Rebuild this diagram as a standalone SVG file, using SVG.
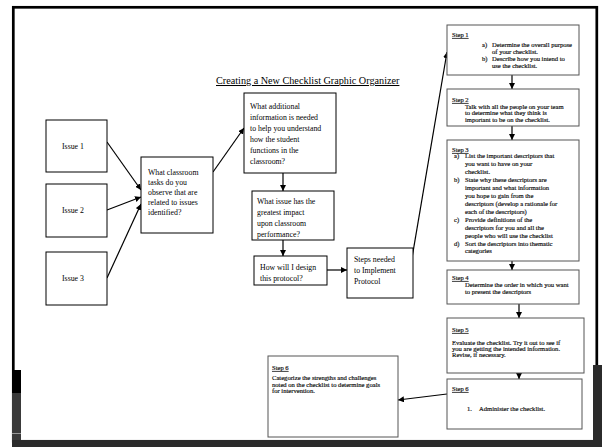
<svg xmlns="http://www.w3.org/2000/svg" width="602" height="447" viewBox="0 0 602 447">
  <defs>
    <marker id="arrow" markerUnits="userSpaceOnUse" markerWidth="6" markerHeight="6" refX="6" refY="3" orient="auto">
      <path d="M0,0 L6,3 L0,6 z" fill="#000"/>
    </marker>
  </defs>
  <style>
    .box { fill: #fff; stroke: #000; stroke-width: 1; }
    .step { fill: #fff; stroke: #555; stroke-width: 1; }
    .t { font-family: "Liberation Serif", "Times New Roman", serif; font-size: 7.8px; fill: #000; }
    .s { font-family: "Liberation Serif", "Times New Roman", serif; font-size: 6.6px; fill: #111; stroke: #111; stroke-width: 0.18; }
    .u { text-decoration: underline; }
    .title { font-family: "Liberation Serif", "Times New Roman", serif; font-size: 10.2px; fill: #000; text-decoration: underline; }
    .link { fill: none; stroke: #000; stroke-width: 1.2; marker-end: url(#arrow); }
  </style>

  <!-- page background and slide frame -->
  <rect x="0" y="0" width="602" height="447" fill="#fff"/>
  <rect x="13.3" y="7.3" width="583.5" height="434" fill="none" stroke="#000" stroke-width="2.7"/>
  <rect x="593" y="365" width="9" height="82" fill="#2b2b2b"/>
  <rect x="12" y="440" width="590" height="7" fill="#2b2b2b"/>
  <rect x="12" y="370" width="9" height="23" fill="#000"/>
  <rect x="12" y="393" width="9" height="47" fill="#3a3a3a"/>
  <line x1="12" y1="433.5" x2="21" y2="433.5" stroke="#999" stroke-width="1"/>

  <text class="title" x="216" y="84">Creating a New Checklist Graphic Organizer</text>

  <!-- connectors -->
  <g id="connectors">
    <line class="link" x1="107" y1="142" x2="141" y2="190"/>
    <line class="link" x1="107" y1="210" x2="141" y2="197"/>
    <line class="link" x1="107" y1="278" x2="141" y2="204"/>
    <line class="link" x1="213" y1="172" x2="244" y2="128"/>
    <line class="link" x1="283" y1="173" x2="283" y2="191"/>
    <line class="link" x1="283" y1="240" x2="283" y2="256"/>
    <line class="link" x1="327" y1="270" x2="347" y2="270"/>
    <line class="link" x1="412" y1="258" x2="447" y2="52"/>
    <line class="link" x1="512" y1="75" x2="512" y2="89"/>
    <line class="link" x1="512" y1="126" x2="512" y2="140"/>
    <line class="link" x1="512" y1="261" x2="512" y2="270"/>
    <line class="link" x1="519" y1="304" x2="519" y2="318"/>
    <line class="link" x1="519" y1="373" x2="519" y2="379"/>
    <line class="link" x1="447" y1="394" x2="398" y2="400"/>
  </g>

  <g id="issue1">
    <rect class="box" x="46" y="120" width="61" height="52"/>
    <text class="t" x="62" y="149">Issue 1</text>
  </g>
  <g id="issue2">
    <rect class="box" x="46" y="184" width="61" height="53"/>
    <text class="t" x="62" y="213">Issue 2</text>
  </g>
  <g id="issue3">
    <rect class="box" x="46" y="252" width="61" height="53"/>
    <text class="t" x="62" y="281">Issue 3</text>
  </g>

  <g id="classroom-tasks">
    <rect class="box" x="141" y="157" width="72" height="76"/>
    <text class="t" x="148" y="175">What classroom</text>
    <text class="t" x="148" y="185">tasks do you</text>
    <text class="t" x="148" y="195">observe that are</text>
    <text class="t" x="148" y="205">related to issues</text>
    <text class="t" x="148" y="215">identified?</text>
  </g>

  <g id="additional-info">
    <rect class="box" x="244" y="93" width="92" height="80"/>
    <text class="t" x="250" y="109">What additional</text>
    <text class="t" x="250" y="120">information is needed</text>
    <text class="t" x="250" y="131">to help you understand</text>
    <text class="t" x="250" y="142">how the student</text>
    <text class="t" x="250" y="153">functions in the</text>
    <text class="t" x="250" y="164">classroom?</text>
  </g>

  <g id="greatest-impact">
    <rect class="box" x="252" y="191" width="82" height="49"/>
    <text class="t" x="257" y="204">What issue has the</text>
    <text class="t" x="257" y="215">greatest impact</text>
    <text class="t" x="257" y="226">upon classroom</text>
    <text class="t" x="257" y="237">performance?</text>
  </g>

  <g id="design-protocol">
    <rect class="box" x="254" y="256" width="73" height="29"/>
    <text class="t" x="260" y="270">How will I design</text>
    <text class="t" x="260" y="281">this protocol?</text>
  </g>

  <g id="steps-needed">
    <rect class="box" x="347" y="248" width="66" height="50"/>
    <text class="t" x="354" y="262">Steps needed</text>
    <text class="t" x="354" y="273">to Implement</text>
    <text class="t" x="354" y="284">Protocol</text>
  </g>

  <g id="step1">
    <rect class="step" x="447" y="25" width="132" height="50"/>
    <text class="s u" x="452" y="37">Step 1</text>
    <text class="s" x="482" y="47">a)</text>
    <text class="s" x="492" y="47">Determine the overall purpose</text>
    <text class="s" x="492" y="54">of your checklist.</text>
    <text class="s" x="482" y="61">b)</text>
    <text class="s" x="492" y="61">Describe how you intend to</text>
    <text class="s" x="492" y="68">use the checklist.</text>
  </g>

  <g id="step2">
    <rect class="step" x="447" y="89" width="132" height="37"/>
    <text class="s u" x="452" y="102">Step 2</text>
    <text class="s" x="465" y="108.5">Talk with all the people on your team</text>
    <text class="s" x="465" y="115">to determine what they think is</text>
    <text class="s" x="465" y="121.5">important to be on the checklist.</text>
  </g>

  <g id="step3">
    <rect class="step" x="447" y="140" width="132" height="121"/>
    <text class="s u" x="452" y="152">Step 3</text>
    <text class="s" x="454" y="158">a)</text>
    <text class="s" x="465" y="158">List the important descriptors that</text>
    <text class="s" x="465" y="166">you want to have on your</text>
    <text class="s" x="465" y="174">checklist.</text>
    <text class="s" x="454" y="182">b)</text>
    <text class="s" x="465" y="182">State why these descriptors are</text>
    <text class="s" x="465" y="190">important and what information</text>
    <text class="s" x="465" y="198">you hope to gain from the</text>
    <text class="s" x="465" y="206">descriptors (develop a rationale for</text>
    <text class="s" x="465" y="213.5">each of the descriptors)</text>
    <text class="s" x="454" y="221.5">c)</text>
    <text class="s" x="465" y="221.5">Provide definitions of the</text>
    <text class="s" x="465" y="229.5">descriptors for you and all the</text>
    <text class="s" x="465" y="237.5">people who will use the checklist</text>
    <text class="s" x="454" y="245.5">d)</text>
    <text class="s" x="465" y="245.5">Sort the descriptors into thematic</text>
    <text class="s" x="465" y="253">categories</text>
  </g>

  <g id="step4">
    <rect class="step" x="447" y="270" width="132" height="34"/>
    <text class="s u" x="452" y="280">Step 4</text>
    <text class="s" x="465" y="287">Determine the order in which you want</text>
    <text class="s" x="465" y="293.5">to present the descriptors</text>
  </g>

  <g id="step5">
    <rect class="step" x="447" y="318" width="137" height="55"/>
    <text class="s u" x="452" y="332">Step 5</text>
    <text class="s" x="452" y="345">Evaluate the checklist.  Try it out to see if</text>
    <text class="s" x="452" y="351">you are getting the intended information.</text>
    <text class="s" x="452" y="357">Revise, if necessary.</text>
  </g>

  <g id="step6-administer">
    <rect class="step" x="447" y="379" width="135" height="50"/>
    <text class="s u" x="452" y="391">Step 6</text>
    <text class="s" x="467" y="411">1.</text>
    <text class="s" x="479" y="411">Administer the checklist.</text>
  </g>

  <g id="step6-categorize">
    <rect class="step" x="268" y="356" width="130" height="81"/>
    <text class="s u" x="272" y="370">Step 6</text>
    <text class="s" x="272" y="380">Categorize the strengths and challenges</text>
    <text class="s" x="272" y="386.5">noted on the checklist to determine goals</text>
    <text class="s" x="272" y="393">for intervention.</text>
  </g>
</svg>
